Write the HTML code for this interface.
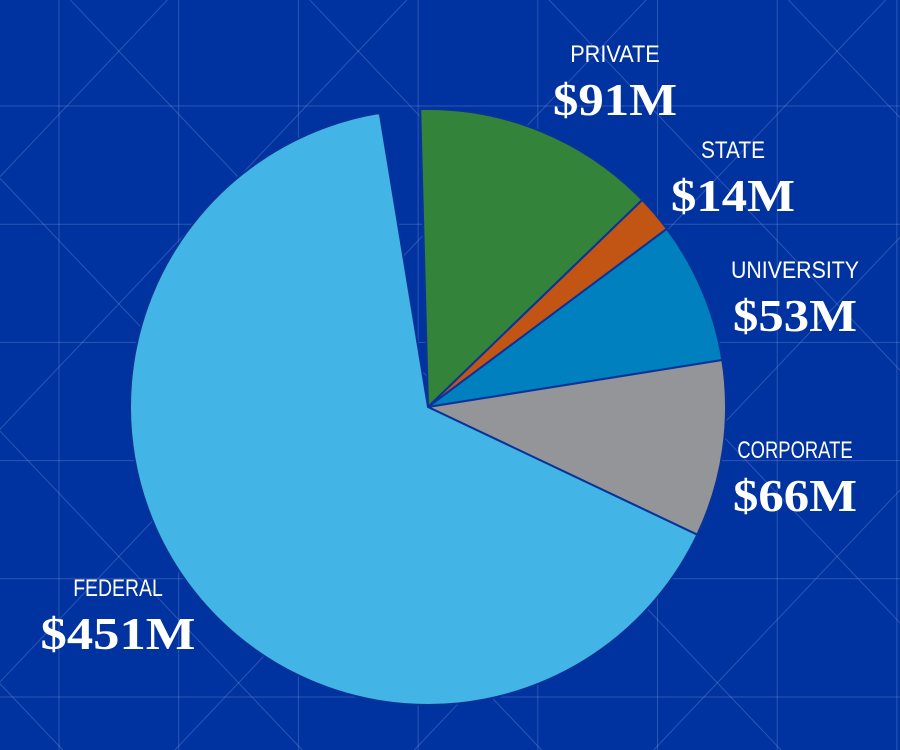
<!DOCTYPE html>
<html><head><meta charset="utf-8"><style>
html,body{margin:0;padding:0;background:#0033a0;width:900px;height:750px;overflow:hidden;}
svg{display:block}
.nm{font-family:"Liberation Sans",sans-serif;font-size:24px;fill:#fff}
.vl{font-family:"Liberation Serif",serif;font-weight:bold;font-size:46px;fill:#fff}
</style></head><body>
<svg id="chart" width="900" height="750" viewBox="0 0 900 750" xmlns="http://www.w3.org/2000/svg">
<rect width="900" height="750" fill="#0033a0"/>
<g id="grid" stroke="#8fa8e0" stroke-opacity="0.3" stroke-width="1" fill="none"></g>
<g id="slices"></g>
<g id="labels"></g>
</svg>
<script>
const categories = ["PRIVATE","STATE","UNIVERSITY","CORPORATE","FEDERAL","OTHER"];
const values = [91,14,53,66,451,15];
const valueLabels = ["$91M","$14M","$53M","$66M","$451M",""];
const colors = ["#33843a","#c25414","#0080bf","#939598","#42b4e5","none"];
const labelPos = [[615,62],[733,158],[795,278],[795,458],[118,596]];
const cx=428, cy=407, r=298, startDeg=-1.5;
const NS="http://www.w3.org/2000/svg";
const grid=document.getElementById('grid');
function ln(x1,y1,x2,y2){const l=document.createElementNS(NS,'line');l.setAttribute('x1',x1);l.setAttribute('y1',y1);l.setAttribute('x2',x2);l.setAttribute('y2',y2);


grid.appendChild(l);}
for(let i=0;i<8;i++){const x=59+i*119.7;ln(x,0,x,750);}
for(let j=0;j<7;j++){const y=106+j*118.2;ln(0,y,900,y);}
for(let k=-8;k<12;k+=2){const x0=59+k*119.7;ln(x0,-12,x0+760*0.95,750);ln(x0+119.7,-12,x0+119.7-760*0.95,750);}
const total=values.reduce((a,b)=>a+b,0);
const sg=document.getElementById('slices');
let a=startDeg;
function pt(deg){const t=deg*Math.PI/180;return [cx+r*Math.sin(t),cy-r*Math.cos(t)];}
values.forEach((v,i)=>{
  const span=v/total*360;const p1=pt(a),p2=pt(a+span);
  if(colors[i]!=="none"){
    const p=document.createElementNS(NS,'path');
    p.setAttribute('d',`M${cx},${cy} L${p1[0]},${p1[1]} A${r},${r} 0 ${span>180?1:0} 1 ${p2[0]},${p2[1]} Z`);
    p.setAttribute('fill',colors[i]);p.setAttribute('stroke','#0a3399');p.setAttribute('stroke-width','2');
    
    
    sg.appendChild(p);
  }
  a+=span;
});
const lg=document.getElementById('labels');
labelPos.forEach((lp,i)=>{
  const t=document.createElementNS(NS,'text');t.setAttribute('x',lp[0]);t.setAttribute('y',lp[1]);t.setAttribute('text-anchor','middle');t.setAttribute('class','nm');
  t.setAttribute('textLength',categories[i].length*12.8);t.setAttribute('lengthAdjust','spacingAndGlyphs');
  t.textContent=categories[i];
  
  
  lg.appendChild(t);
  const u=document.createElementNS(NS,'text');u.setAttribute('x',lp[0]);u.setAttribute('y',lp[1]+53);u.setAttribute('text-anchor','middle');u.setAttribute('class','vl');
  u.setAttribute('textLength',valueLabels[i].length*31);u.setAttribute('lengthAdjust','spacingAndGlyphs');
  u.textContent=valueLabels[i];
  
  
  lg.appendChild(u);
});
</script>
</body></html>
